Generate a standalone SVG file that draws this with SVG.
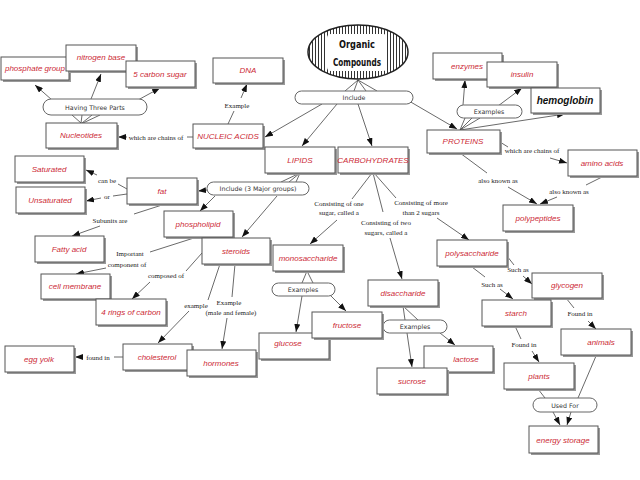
<svg xmlns="http://www.w3.org/2000/svg" width="640" height="480" viewBox="0 0 640 480">
<defs>
<style>
.sh{fill:#999}
.bx{fill:#fff;stroke:#555;stroke-width:1}
.t{font-family:"Liberation Sans",Arial,sans-serif;font-style:italic;font-size:8px;fill:#cc2a36;text-anchor:middle}
.pl{fill:#fff;stroke:#666;stroke-width:1}
.pt{font-family:"DejaVu Sans",Verdana,sans-serif;font-size:6.3px;fill:#333;text-anchor:middle}
.lb{font-family:"Liberation Serif","Times New Roman",serif;font-size:7px;fill:#222;text-anchor:middle}
.c line,.c path{stroke:#444;stroke-width:0.8;fill:none}
.a{marker-end:url(#arr)}
</style>
<marker id="arr" markerUnits="userSpaceOnUse" markerWidth="9" markerHeight="6" refX="8" refY="3" orient="auto">
<path d="M0,0 L8,3 L0,6 z" fill="#111"/>
</marker>
<pattern id="stripes" width="3" height="4" patternUnits="userSpaceOnUse">
<rect width="3" height="4" fill="#fff"/>
<rect width="1" height="4" fill="#333"/>
</pattern>
</defs>
<rect width="640" height="480" fill="#fff"/>

<g id="connectors" class="c">
<line x1="358" y1="80" x2="345" y2="91"/>
<line x1="358" y1="80" x2="354" y2="91"/>
<line x1="358" y1="80" x2="366" y2="91"/>
<line x1="358" y1="80" x2="377" y2="91"/>
<line class="a" x1="322" y1="104" x2="265" y2="137"/>
<line class="a" x1="337" y1="104" x2="302" y2="146"/>
<line class="a" x1="358" y1="104" x2="372" y2="146"/>
<line class="a" x1="409" y1="101" x2="457" y2="129"/>
<line x1="81" y1="123" x2="72" y2="115"/>
<line x1="81" y1="123" x2="82" y2="115"/>
<line x1="82" y1="123" x2="92" y2="115"/>
<line x1="83" y1="123" x2="100" y2="115"/>
<line class="a" x1="52" y1="100" x2="35" y2="85"/>
<line class="a" x1="91" y1="99" x2="101" y2="74"/>
<line class="a" x1="138" y1="100" x2="160" y2="88"/>
<line x1="193" y1="137" x2="187" y2="137"/>
<line class="a" x1="127" y1="137" x2="118" y2="137"/>
<line x1="228" y1="124" x2="234" y2="111"/>
<line class="a" x1="241" y1="98" x2="247" y2="84"/>
<line x1="460" y1="130" x2="465" y2="118"/>
<line x1="460" y1="130" x2="472" y2="118"/>
<line x1="460" y1="130" x2="480" y2="118"/>
<line class="a" x1="463" y1="105" x2="465" y2="80"/>
<line class="a" x1="498" y1="106" x2="522" y2="88"/>
<line class="a" x1="460" y1="130" x2="565" y2="114"/>
<line x1="500" y1="142" x2="508" y2="147"/>
<line class="a" x1="550" y1="158" x2="567" y2="163"/>
<line x1="460" y1="153" x2="487" y2="173"/>
<line class="a" x1="508" y1="187" x2="537" y2="204"/>
<line x1="602" y1="177" x2="586" y2="185"/>
<line class="a" x1="557" y1="197" x2="540" y2="204"/>
<line x1="300" y1="173" x2="281" y2="182"/>
<line x1="300" y1="173" x2="289" y2="182"/>
<line x1="300" y1="173" x2="296" y2="182"/>
<line class="a" x1="207" y1="190" x2="198" y2="191"/>
<line class="a" x1="215" y1="196" x2="200" y2="211"/>
<line class="a" x1="277" y1="196" x2="242" y2="237"/>
<line x1="127" y1="189" x2="118" y2="184"/>
<line class="a" x1="97" y1="175" x2="86" y2="170"/>
<line x1="127" y1="194" x2="113" y2="196"/>
<line class="a" x1="101" y1="198" x2="86" y2="201"/>
<line x1="162" y1="205" x2="134" y2="214"/>
<line class="a" x1="100" y1="226" x2="72" y2="236"/>
<line x1="197" y1="237" x2="150" y2="252"/>
<line class="a" x1="106" y1="268" x2="76" y2="274"/>
<line x1="202" y1="253" x2="186" y2="271"/>
<line class="a" x1="150" y1="282" x2="132" y2="299"/>
<line x1="220" y1="264" x2="208" y2="300"/>
<line class="a" x1="189" y1="311" x2="158" y2="343"/>
<line x1="235" y1="264" x2="232" y2="297"/>
<line class="a" x1="227" y1="318" x2="222" y2="349"/>
<line x1="123" y1="357" x2="114" y2="357"/>
<line class="a" x1="82" y1="357" x2="75" y2="357"/>
<line x1="372" y1="173" x2="352" y2="199"/>
<line class="a" x1="337" y1="220" x2="310" y2="244"/>
<line x1="373" y1="173" x2="383" y2="212"/>
<line class="a" x1="390" y1="238" x2="402" y2="279"/>
<line x1="374" y1="173" x2="396" y2="198"/>
<line class="a" x1="437" y1="218" x2="469" y2="240"/>
<line x1="307" y1="271" x2="302" y2="283"/>
<line x1="307" y1="271" x2="313" y2="283"/>
<line class="a" x1="302" y1="296" x2="296" y2="332"/>
<line class="a" x1="330" y1="295" x2="346" y2="311"/>
<line x1="403" y1="306" x2="405" y2="320"/>
<line x1="403" y1="306" x2="418" y2="320"/>
<line class="a" x1="407" y1="333" x2="412" y2="367"/>
<line class="a" x1="440" y1="333" x2="455" y2="345"/>
<line x1="507" y1="256" x2="514" y2="265"/>
<line class="a" x1="523" y1="276" x2="532" y2="284"/>
<line x1="472" y1="267" x2="485" y2="277"/>
<line class="a" x1="500" y1="289" x2="513" y2="299"/>
<line x1="566" y1="298" x2="574" y2="308"/>
<line class="a" x1="588" y1="321" x2="596" y2="329"/>
<line x1="515" y1="326" x2="521" y2="339"/>
<line class="a" x1="532" y1="351" x2="539" y2="362"/>
<line x1="538" y1="389" x2="545" y2="398"/>
<line x1="596" y1="356" x2="578" y2="398"/>
<line class="a" x1="553" y1="412" x2="560" y2="425"/>
<line class="a" x1="571" y1="412" x2="567" y2="425"/>
</g>

<g id="labels">
<text class="lb" x="156" y="140">which are chains of</text>
<text class="lb" x="237" y="108">Example</text>
<text class="lb" x="532" y="153">which are chains of</text>
<text class="lb" x="498" y="183">also known as</text>
<text class="lb" x="569" y="194">also known as</text>
<text class="lb" x="107" y="183">can be</text>
<text class="lb" x="107" y="199">or</text>
<text class="lb" x="110" y="223">Subunits are</text>
<text class="lb" x="130" y="256">Important</text>
<text class="lb" x="127" y="267">component of</text>
<text class="lb" x="166" y="278">composed of</text>
<text class="lb" x="196" y="308">example</text>
<text class="lb" x="229" y="305">Example</text>
<text class="lb" x="231" y="315">(male and female)</text>
<text class="lb" x="98" y="360">found in</text>
<text class="lb" x="339" y="206">Consisting of one</text>
<text class="lb" x="339" y="215">sugar, called a</text>
<text class="lb" x="386" y="225">Consisting of two</text>
<text class="lb" x="386" y="235">sugars, called a</text>
<text class="lb" x="421" y="205">Consisting of more</text>
<text class="lb" x="421" y="215">than 2 sugars</text>
<text class="lb" x="518" y="272">Such as</text>
<text class="lb" x="492" y="287">Such as</text>
<text class="lb" x="580" y="316">Found in</text>
<text class="lb" x="524" y="347">Found in</text>
</g>

<g id="organic-compounds">
<ellipse cx="358" cy="52" rx="50" ry="27" fill="url(#stripes)" stroke="#222" stroke-width="1.5"/>
<rect x="327" y="34" width="60" height="37" rx="4" fill="#fff"/>
<text x="357" y="48" font-family="DejaVu Sans,sans-serif" font-weight="bold" font-size="11" text-anchor="middle" fill="#111" textLength="36" lengthAdjust="spacingAndGlyphs">Organic</text>
<text x="357" y="66" font-family="DejaVu Sans,sans-serif" font-weight="bold" font-size="11" text-anchor="middle" fill="#111" textLength="48" lengthAdjust="spacingAndGlyphs">Compounds</text>
</g>

<g id="pill-include"><rect class="pl" x="295" y="91" width="118" height="13" rx="6.5"/><text class="pt" x="354" y="100">Include</text></g>
<g id="pill-three-parts"><rect class="pl" x="43" y="99" width="104" height="16" rx="8"/><text class="pt" x="95" y="109.5">Having Three Parts</text></g>
<g id="pill-examples-proteins"><rect class="pl" x="457" y="105" width="65" height="13" rx="6.5"/><text class="pt" x="489" y="114">Examples</text></g>
<g id="pill-include-3"><rect class="pl" x="207" y="182" width="102" height="13" rx="6.5"/><text class="pt" x="258" y="191">Include (3 Major groups)</text></g>
<g id="pill-examples-mono"><rect class="pl" x="272" y="283" width="63" height="13" rx="6.5"/><text class="pt" x="303" y="292">Examples</text></g>
<g id="pill-examples-di"><rect class="pl" x="383" y="320" width="64" height="13" rx="6.5"/><text class="pt" x="415" y="329">Examples</text></g>
<g id="pill-used-for"><rect class="pl" x="533" y="398" width="64" height="14" rx="7"/><text class="pt" x="565" y="407.5">Used For</text></g>

<g id="phosphate-group"><rect class="sh" x="3" y="59" width="68" height="23"/><rect class="bx" x="1" y="57" width="68" height="23"/><text class="t" x="35" y="71">phosphate group</text></g>
<g id="nitrogen-base"><rect class="sh" x="68" y="47" width="70" height="26"/><rect class="bx" x="66" y="45" width="70" height="26"/><text class="t" x="101" y="60">nitrogen base</text></g>
<g id="carbon-sugar"><rect class="sh" x="128" y="63" width="69" height="26"/><rect class="bx" x="126" y="61" width="69" height="26"/><text class="t" x="160" y="77">5 carbon sugar</text></g>
<g id="nucleotides"><rect class="sh" x="48" y="125" width="71" height="25"/><rect class="bx" x="46" y="123" width="71" height="25"/><text class="t" x="81" y="138">Nucleotides</text></g>
<g id="nucleic-acids"><rect class="sh" x="195" y="126" width="70" height="24"/><rect class="bx" x="193" y="124" width="70" height="24"/><text class="t" x="228" y="139">NUCLEIC ACIDS</text></g>
<g id="dna"><rect class="sh" x="215" y="60" width="70" height="25"/><rect class="bx" x="213" y="58" width="70" height="25"/><text class="t" x="248" y="73">DNA</text></g>
<g id="lipids"><rect class="sh" x="267" y="149" width="70" height="26"/><rect class="bx" x="265" y="147" width="70" height="26"/><text class="t" x="300" y="163">LIPIDS</text></g>
<g id="carbohydrates"><rect class="sh" x="340" y="149" width="70" height="26"/><rect class="bx" x="338" y="147" width="70" height="26"/><text class="t" x="373" y="163">CARBOHYDRATES</text></g>
<g id="proteins"><rect class="sh" x="429" y="132" width="73" height="23"/><rect class="bx" x="427" y="130" width="73" height="23"/><text class="t" x="463" y="144">PROTEINS</text></g>
<g id="enzymes"><rect class="sh" x="435" y="55" width="69" height="26"/><rect class="bx" x="433" y="53" width="69" height="26"/><text class="t" x="467" y="69">enzymes</text></g>
<g id="insulin"><rect class="sh" x="489" y="64" width="70" height="25"/><rect class="bx" x="487" y="62" width="70" height="25"/><text class="t" x="522" y="77">insulin</text></g>
<g id="hemoglobin"><rect class="sh" x="533" y="90" width="69" height="25"/><rect class="bx" x="531" y="88" width="69" height="25"/><text x="565" y="104" font-family="Liberation Sans,Arial,sans-serif" font-style="italic" font-weight="bold" font-size="10" text-anchor="middle" fill="#111">hemoglobin</text></g>
<g id="amino-acids"><rect class="sh" x="570" y="152" width="69" height="26"/><rect class="bx" x="568" y="150" width="69" height="26"/><text class="t" x="602" y="166">amino acids</text></g>
<g id="polypeptides"><rect class="sh" x="505" y="207" width="70" height="26"/><rect class="bx" x="503" y="205" width="70" height="26"/><text class="t" x="538" y="221">polypeptides</text></g>
<g id="saturated"><rect class="sh" x="17" y="158" width="69" height="26"/><rect class="bx" x="15" y="156" width="69" height="26"/><text class="t" x="49" y="172">Saturated</text></g>
<g id="unsaturated"><rect class="sh" x="18" y="189" width="69" height="26"/><rect class="bx" x="16" y="187" width="69" height="26"/><text class="t" x="50" y="203">Unsaturated</text></g>
<g id="fat"><rect class="sh" x="129" y="180" width="70" height="26"/><rect class="bx" x="127" y="178" width="70" height="26"/><text class="t" x="162" y="194">fat</text></g>
<g id="phospholipid"><rect class="sh" x="166" y="213" width="69" height="26"/><rect class="bx" x="164" y="211" width="69" height="26"/><text class="t" x="198" y="227">phospholipid</text></g>
<g id="steroids"><rect class="sh" x="204" y="240" width="68" height="26"/><rect class="bx" x="202" y="238" width="68" height="26"/><text class="t" x="236" y="254">steroids</text></g>
<g id="monosaccharide"><rect class="sh" x="275" y="247" width="70" height="26"/><rect class="bx" x="273" y="245" width="70" height="26"/><text class="t" x="308" y="261">monosaccharide</text></g>
<g id="fatty-acid"><rect class="sh" x="37" y="238" width="69" height="26"/><rect class="bx" x="35" y="236" width="69" height="26"/><text class="t" x="69" y="252">Fatty acid</text></g>
<g id="cell-membrane"><rect class="sh" x="43" y="276" width="69" height="25"/><rect class="bx" x="41" y="274" width="69" height="25"/><text class="t" x="75" y="289">cell membrane</text></g>
<g id="rings-of-carbon"><rect class="sh" x="98" y="301" width="70" height="26"/><rect class="bx" x="96" y="299" width="70" height="26"/><text class="t" x="131" y="315">4 rings of carbon</text></g>
<g id="egg-yolk"><rect class="sh" x="7" y="348" width="69" height="26"/><rect class="bx" x="5" y="346" width="69" height="26"/><text class="t" x="39" y="362">egg yolk</text></g>
<g id="cholesterol"><rect class="sh" x="125" y="346" width="69" height="26"/><rect class="bx" x="123" y="344" width="69" height="26"/><text class="t" x="157" y="360">cholesterol</text></g>
<g id="hormones"><rect class="sh" x="189" y="352" width="69" height="26"/><rect class="bx" x="187" y="350" width="69" height="26"/><text class="t" x="221" y="366">hormones</text></g>
<g id="glucose"><rect class="sh" x="261" y="335" width="70" height="26"/><rect class="bx" x="259" y="333" width="70" height="26"/><text class="t" x="288" y="346">glucose</text></g>
<g id="fructose"><rect class="sh" x="314" y="314" width="70" height="26"/><rect class="bx" x="312" y="312" width="70" height="26"/><text class="t" x="347" y="328">fructose</text></g>
<g id="disaccharide"><rect class="sh" x="370" y="282" width="70" height="26"/><rect class="bx" x="368" y="280" width="70" height="26"/><text class="t" x="403" y="296">disaccharide</text></g>
<g id="lactose"><rect class="sh" x="426" y="348" width="69" height="26"/><rect class="bx" x="424" y="346" width="69" height="26"/><text class="t" x="466" y="362">lactose</text></g>
<g id="sucrose"><rect class="sh" x="379" y="370" width="70" height="26"/><rect class="bx" x="377" y="368" width="70" height="26"/><text class="t" x="412" y="384">sucrose</text></g>
<g id="polysaccharide"><rect class="sh" x="439" y="242" width="70" height="26"/><rect class="bx" x="437" y="240" width="70" height="26"/><text class="t" x="472" y="256">polysaccharide</text></g>
<g id="glycogen"><rect class="sh" x="534" y="275" width="70" height="25"/><rect class="bx" x="532" y="273" width="70" height="25"/><text class="t" x="567" y="288">glycogen</text></g>
<g id="starch"><rect class="sh" x="484" y="302" width="69" height="26"/><rect class="bx" x="482" y="300" width="69" height="26"/><text class="t" x="516" y="316">starch</text></g>
<g id="animals"><rect class="sh" x="563" y="331" width="70" height="26"/><rect class="bx" x="561" y="329" width="70" height="26"/><text class="t" x="601" y="345">animals</text></g>
<g id="plants"><rect class="sh" x="506" y="365" width="70" height="26"/><rect class="bx" x="504" y="363" width="70" height="26"/><text class="t" x="539" y="379">plants</text></g>
<g id="energy-storage"><rect class="sh" x="531" y="428" width="69" height="27"/><rect class="bx" x="529" y="426" width="69" height="27"/><text class="t" x="563" y="443">energy storage</text></g>
</svg>
